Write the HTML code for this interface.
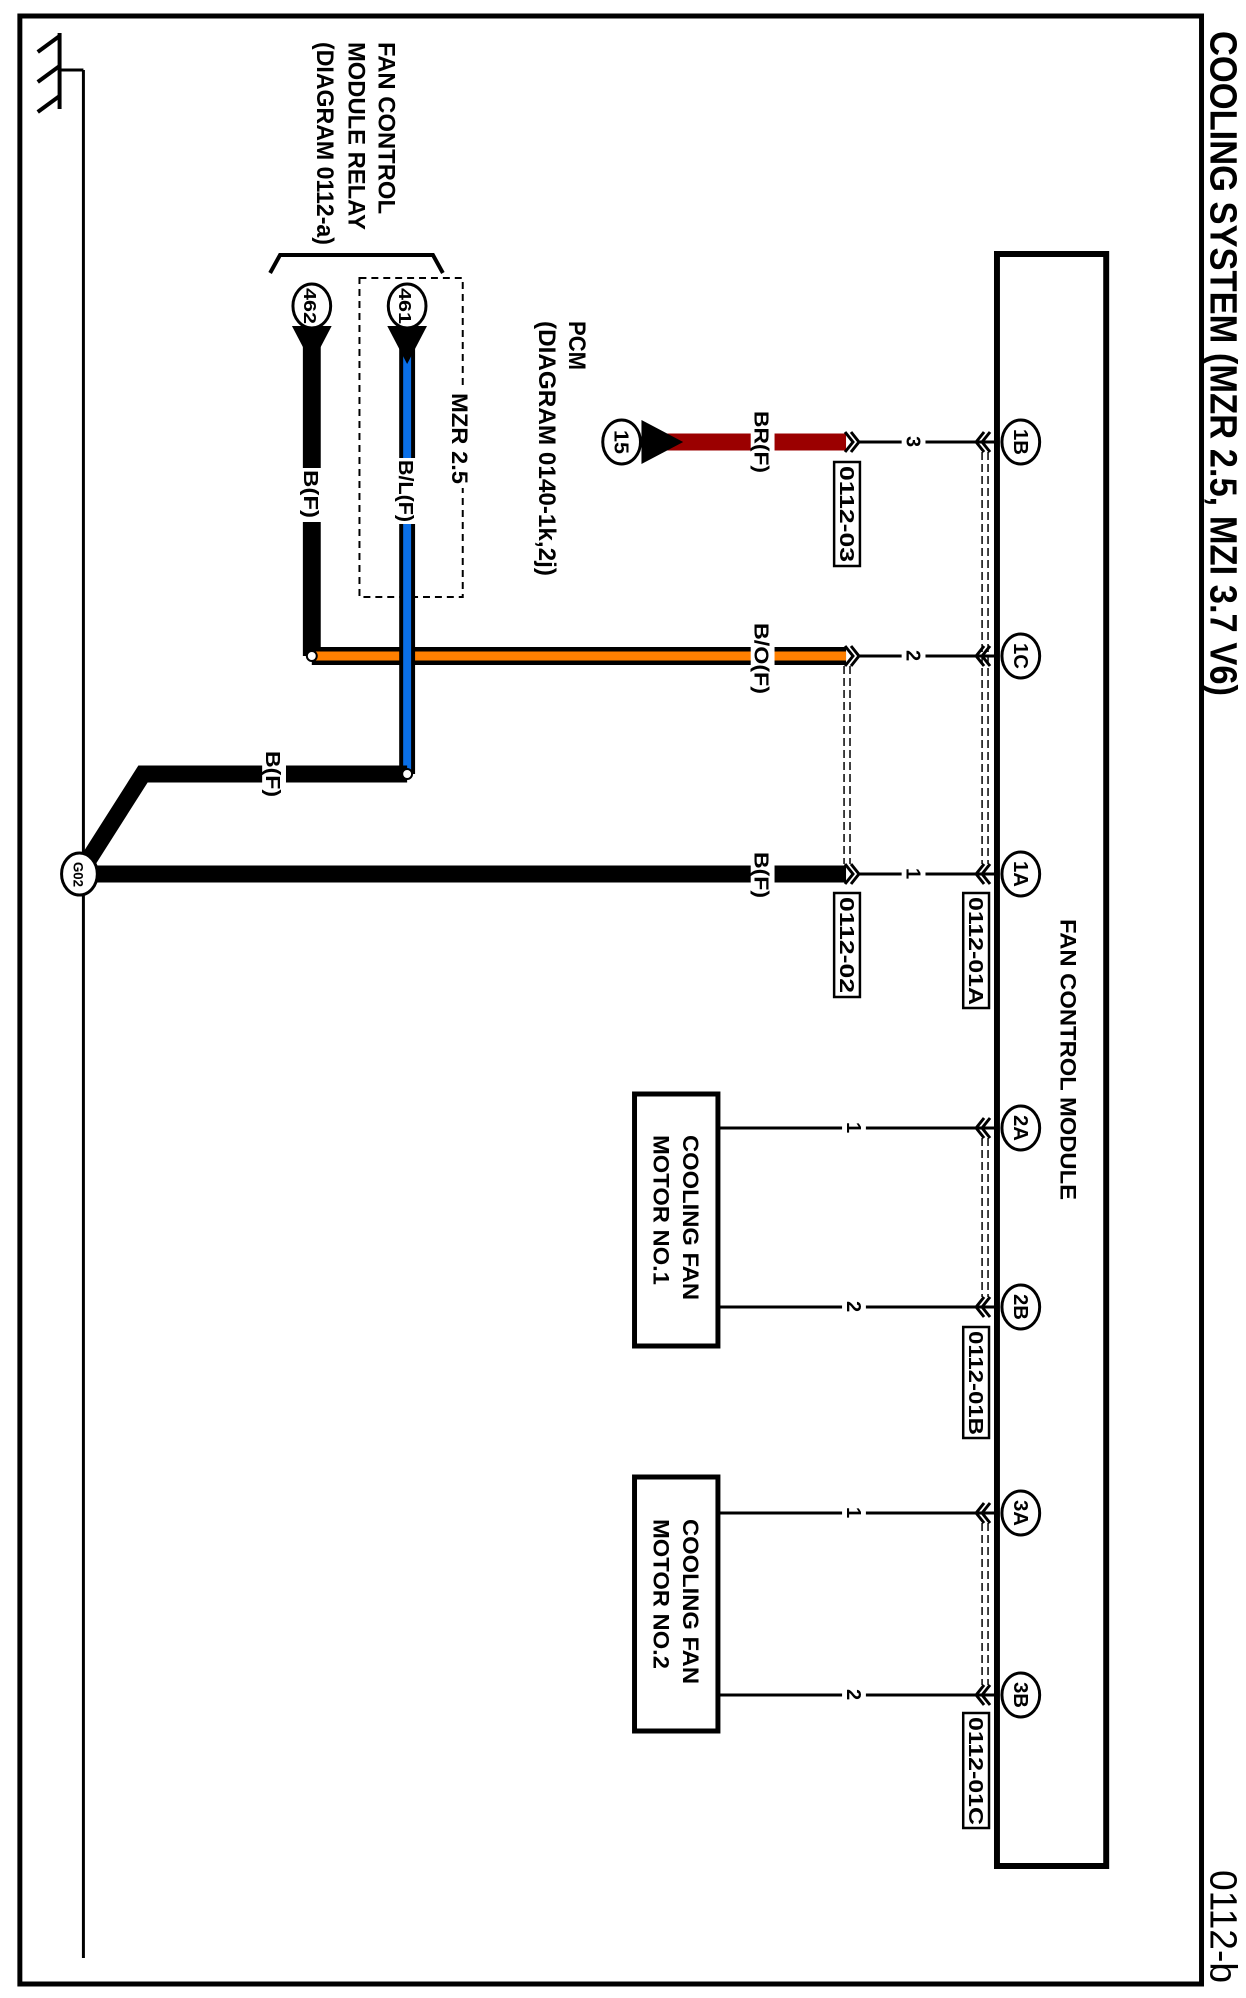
<!DOCTYPE html>
<html><head><meta charset="utf-8"><style>
html,body{margin:0;padding:0;background:#fff;}
svg{display:block;}
text{font-family:"Liberation Sans",Arial,sans-serif;font-weight:bold;fill:#000;}
</style></head><body>
<svg width="1246" height="1998" xmlns="http://www.w3.org/2000/svg">
<rect x="0" y="0" width="1246" height="1998" fill="#fff"/>
<g transform="scale(0.993,1)">
<rect x="20" y="16" width="1190" height="1968" fill="none" stroke="#000" stroke-width="5"/>
<text transform="translate(1219,31) rotate(90)" font-size="38" textLength="665" lengthAdjust="spacingAndGlyphs">COOLING SYSTEM (MZR 2.5, MZI 3.7 V6)</text>
<text transform="translate(1219,1870) rotate(90)" font-size="38" textLength="113" lengthAdjust="spacingAndGlyphs" style="font-weight:normal">0112-b</text>

<line x1="84" y1="70" x2="84" y2="1958" stroke="#000" stroke-width="3"/>
<line x1="60" y1="70" x2="84" y2="70" stroke="#000" stroke-width="3"/>
<line x1="60" y1="33" x2="60" y2="109" stroke="#000" stroke-width="4"/>
<line x1="38" y1="52" x2="60" y2="36" stroke="#000" stroke-width="4"/>
<line x1="38" y1="82" x2="60" y2="66" stroke="#000" stroke-width="4"/>
<line x1="38" y1="112" x2="60" y2="96" stroke="#000" stroke-width="4"/>

<text transform="translate(381,42) rotate(90)" font-size="24" textLength="172" lengthAdjust="spacingAndGlyphs">FAN CONTROL</text>
<text transform="translate(351,42) rotate(90)" font-size="24" textLength="188" lengthAdjust="spacingAndGlyphs">MODULE RELAY</text>
<text transform="translate(319,42) rotate(90)" font-size="24" textLength="203" lengthAdjust="spacingAndGlyphs">(DIAGRAM 0112-a)</text>
<polyline points="272,273 282,255 436,255 446,273" fill="none" stroke="#000" stroke-width="4"/>
<rect x="362" y="278" width="104" height="319" fill="none" stroke="#000" stroke-width="2" stroke-dasharray="7,5"/>
<rect x="452" y="390" width="20" height="98" fill="#fff"/>
<text transform="translate(455,393) rotate(90)" font-size="22" textLength="91" lengthAdjust="spacingAndGlyphs">MZR 2.5</text>

<text transform="translate(573,321) rotate(90)" font-size="24" textLength="49" lengthAdjust="spacingAndGlyphs">PCM</text>
<text transform="translate(543,321) rotate(90)" font-size="24" textLength="255" lengthAdjust="spacingAndGlyphs">(DIAGRAM 0140-1k,2j)</text>

<line x1="314" y1="345" x2="314" y2="656" stroke="#000" stroke-width="18"/>
<polygon points="294,326 334,326 314,364" fill="#000"/>
<ellipse cx="314" cy="306" rx="19" ry="22" fill="#fff" stroke="#000" stroke-width="3"/>
<text transform="translate(306,288) rotate(90)" font-size="18" textLength="36" lengthAdjust="spacingAndGlyphs">462</text>

<line x1="314" y1="656" x2="852" y2="656" stroke="#000" stroke-width="18"/>
<line x1="318" y1="656" x2="852" y2="656" stroke="#ff8000" stroke-width="9"/>

<line x1="410" y1="345" x2="410" y2="774" stroke="#000" stroke-width="16"/>
<line x1="410" y1="345" x2="410" y2="770" stroke="#0a6fe8" stroke-width="8"/>
<polygon points="390,326 430,326 410,364" fill="#000"/>
<ellipse cx="410" cy="306" rx="19" ry="22" fill="#fff" stroke="#000" stroke-width="3"/>
<text transform="translate(402,288) rotate(90)" font-size="18" textLength="36" lengthAdjust="spacingAndGlyphs">461</text>

<polyline points="410,774 144,774 80,874" fill="none" stroke="#000" stroke-width="17" stroke-linejoin="miter"/>
<line x1="80" y1="874" x2="852" y2="874" stroke="#000" stroke-width="17"/>
<line x1="660" y1="442" x2="852" y2="442" stroke="#9b0000" stroke-width="17"/>
<polygon points="646,420 646,464 688,442" fill="#000"/>
<ellipse cx="626" cy="442" rx="19" ry="22" fill="#fff" stroke="#000" stroke-width="3"/>
<text transform="translate(619,430) rotate(90)" font-size="20" textLength="24" lengthAdjust="spacingAndGlyphs">15</text>

<circle cx="314" cy="656" r="5" fill="#fff" stroke="#000" stroke-width="2"/>
<circle cx="410" cy="774" r="5" fill="#fff" stroke="#000" stroke-width="2"/>

<ellipse cx="80" cy="874" rx="18" ry="21" fill="#fff" stroke="#000" stroke-width="3"/>
<text transform="translate(74,862) rotate(90)" font-size="14" textLength="25" lengthAdjust="spacingAndGlyphs">G02</text>

<rect x="302" y="468" width="24" height="54" fill="#fff"/>
<text transform="translate(306,470) rotate(90)" font-size="20" textLength="48" lengthAdjust="spacingAndGlyphs">B(F)</text>
<rect x="398" y="458" width="24" height="66" fill="#fff"/>
<text transform="translate(402,460) rotate(90)" font-size="20" textLength="62" lengthAdjust="spacingAndGlyphs">B/L(F)</text>
<rect x="264" y="749" width="24" height="50" fill="#fff"/>
<text transform="translate(268,751) rotate(90)" font-size="20" textLength="46" lengthAdjust="spacingAndGlyphs">B(F)</text>
<rect x="756" y="409" width="24" height="66" fill="#fff"/>
<text transform="translate(760,411) rotate(90)" font-size="20" textLength="62" lengthAdjust="spacingAndGlyphs">BR(F)</text>
<rect x="756" y="621" width="24" height="76" fill="#fff"/>
<text transform="translate(760,623) rotate(90)" font-size="20" textLength="71" lengthAdjust="spacingAndGlyphs">B/O(F)</text>
<rect x="756" y="850" width="24" height="50" fill="#fff"/>
<text transform="translate(760,852) rotate(90)" font-size="20" textLength="46" lengthAdjust="spacingAndGlyphs">B(F)</text>

<rect x="1004" y="254" width="110" height="1612" fill="none" stroke="#000" stroke-width="6"/>
<text transform="translate(1068,919) rotate(90)" font-size="22" textLength="281" lengthAdjust="spacingAndGlyphs">FAN CONTROL MODULE</text>

<g stroke="#000" stroke-width="3" fill="none">
<line x1="864" y1="442" x2="1004" y2="442"/>
<line x1="864" y1="656" x2="1004" y2="656"/>
<line x1="864" y1="874" x2="1004" y2="874"/>
<line x1="724" y1="1128" x2="1004" y2="1128"/>
<line x1="724" y1="1307" x2="1004" y2="1307"/>
<line x1="724" y1="1513" x2="1004" y2="1513"/>
<line x1="724" y1="1695" x2="1004" y2="1695"/>
</g>
<g>
<rect x="908" y="432" width="24" height="20" fill="#fff"/>
<rect x="908" y="646" width="24" height="20" fill="#fff"/>
<rect x="908" y="864" width="24" height="20" fill="#fff"/>
<rect x="848" y="1118" width="24" height="20" fill="#fff"/>
<rect x="848" y="1297" width="24" height="20" fill="#fff"/>
<rect x="848" y="1503" width="24" height="20" fill="#fff"/>
<rect x="848" y="1685" width="24" height="20" fill="#fff"/>
</g>
<g font-size="20">
<text transform="translate(913,436) rotate(90)">3</text>
<text transform="translate(913,650) rotate(90)">2</text>
<text transform="translate(913,868) rotate(90)">1</text>
<text transform="translate(853,1122) rotate(90)">1</text>
<text transform="translate(853,1301) rotate(90)">2</text>
<text transform="translate(853,1507) rotate(90)">1</text>
<text transform="translate(853,1689) rotate(90)">2</text>
</g>

<g stroke="#000" stroke-width="3" fill="none">
<polyline points="991,432 983,442 991,452"/><polyline points="997,432 989,442 997,452"/>
<polyline points="991,646 983,656 991,666"/><polyline points="997,646 989,656 997,666"/>
<polyline points="991,864 983,874 991,884"/><polyline points="997,864 989,874 997,884"/>
<polyline points="991,1118 983,1128 991,1138"/><polyline points="997,1118 989,1128 997,1138"/>
<polyline points="991,1297 983,1307 991,1317"/><polyline points="997,1297 989,1307 997,1317"/>
<polyline points="991,1503 983,1513 991,1523"/><polyline points="997,1503 989,1513 997,1523"/>
<polyline points="991,1685 983,1695 991,1705"/><polyline points="997,1685 989,1695 997,1705"/>
<polyline points="851,432 859,442 851,452"/><polyline points="857,432 865,442 857,452"/>
<polyline points="851,646 859,656 851,666"/><polyline points="857,646 865,656 857,666"/>
<polyline points="851,864 859,874 851,884"/><polyline points="857,864 865,874 857,884"/>
</g>
<g stroke="#000" stroke-width="1.5" stroke-dasharray="8,4" fill="none">
<line x1="989" y1="452" x2="989" y2="864"/><line x1="995" y1="452" x2="995" y2="864"/>
<line x1="989" y1="1138" x2="989" y2="1297"/><line x1="995" y1="1138" x2="995" y2="1297"/>
<line x1="989" y1="1523" x2="989" y2="1685"/><line x1="995" y1="1523" x2="995" y2="1685"/>
<line x1="850" y1="666" x2="850" y2="864"/><line x1="856" y1="666" x2="856" y2="864"/>
</g>

<g>
<ellipse cx="1028" cy="442" rx="19" ry="22" fill="#fff" stroke="#000" stroke-width="3"/>
<ellipse cx="1028" cy="656" rx="19" ry="22" fill="#fff" stroke="#000" stroke-width="3"/>
<ellipse cx="1028" cy="874" rx="19" ry="22" fill="#fff" stroke="#000" stroke-width="3"/>
<ellipse cx="1028" cy="1128" rx="19" ry="22" fill="#fff" stroke="#000" stroke-width="3"/>
<ellipse cx="1028" cy="1307" rx="19" ry="22" fill="#fff" stroke="#000" stroke-width="3"/>
<ellipse cx="1028" cy="1513" rx="19" ry="22" fill="#fff" stroke="#000" stroke-width="3"/>
<ellipse cx="1028" cy="1695" rx="19" ry="22" fill="#fff" stroke="#000" stroke-width="3"/>
</g>
<g font-size="20">
<text transform="translate(1021,429) rotate(90)" textLength="26" lengthAdjust="spacingAndGlyphs">1B</text>
<text transform="translate(1021,643) rotate(90)" textLength="26" lengthAdjust="spacingAndGlyphs">1C</text>
<text transform="translate(1021,861) rotate(90)" textLength="26" lengthAdjust="spacingAndGlyphs">1A</text>
<text transform="translate(1021,1115) rotate(90)" textLength="26" lengthAdjust="spacingAndGlyphs">2A</text>
<text transform="translate(1021,1294) rotate(90)" textLength="26" lengthAdjust="spacingAndGlyphs">2B</text>
<text transform="translate(1021,1500) rotate(90)" textLength="26" lengthAdjust="spacingAndGlyphs">3A</text>
<text transform="translate(1021,1682) rotate(90)" textLength="26" lengthAdjust="spacingAndGlyphs">3B</text>
</g>

<g fill="#fff" stroke="#000" stroke-width="2.5">
<rect x="840" y="462" width="26" height="104"/>
<rect x="840" y="893" width="26" height="104"/>
<rect x="970" y="893" width="26" height="115"/>
<rect x="970" y="1327" width="26" height="111"/>
<rect x="970" y="1713" width="26" height="115"/>
</g>
<g font-size="20">
<text transform="translate(846,466) rotate(90)" textLength="96" lengthAdjust="spacingAndGlyphs">0112-03</text>
<text transform="translate(846,897) rotate(90)" textLength="96" lengthAdjust="spacingAndGlyphs">0112-02</text>
<text transform="translate(976,897) rotate(90)" textLength="108" lengthAdjust="spacingAndGlyphs">0112-01A</text>
<text transform="translate(976,1331) rotate(90)" textLength="104" lengthAdjust="spacingAndGlyphs">0112-01B</text>
<text transform="translate(976,1717) rotate(90)" textLength="108" lengthAdjust="spacingAndGlyphs">0112-01C</text>
</g>

<rect x="639" y="1094" width="84" height="252" fill="#fff" stroke="#000" stroke-width="5"/>
<rect x="639" y="1477" width="84" height="254" fill="#fff" stroke="#000" stroke-width="5"/>
<text transform="translate(688,1135) rotate(90)" font-size="22" textLength="165" lengthAdjust="spacingAndGlyphs">COOLING FAN</text>
<text transform="translate(658,1135) rotate(90)" font-size="22" textLength="150" lengthAdjust="spacingAndGlyphs">MOTOR NO.1</text>
<text transform="translate(688,1519) rotate(90)" font-size="22" textLength="165" lengthAdjust="spacingAndGlyphs">COOLING FAN</text>
<text transform="translate(658,1519) rotate(90)" font-size="22" textLength="150" lengthAdjust="spacingAndGlyphs">MOTOR NO.2</text>
</g>
</svg>
</body></html>
